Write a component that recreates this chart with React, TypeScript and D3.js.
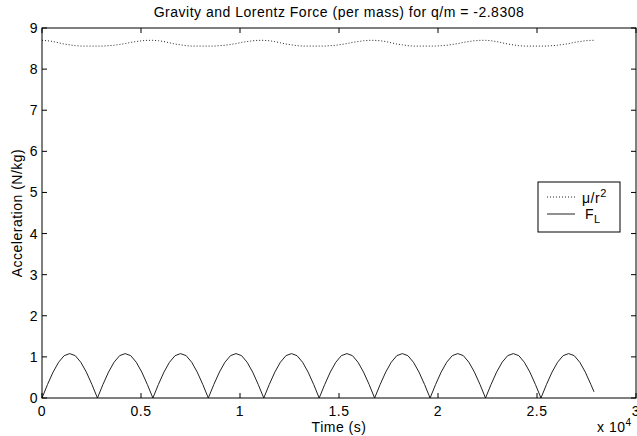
import React from "react";
import * as d3 from "d3";

const TITLE = "Gravity and Lorentz Force (per mass) for q/m = -2.8308";
const X_TICKS = [0, 5000, 10000, 15000, 20000, 25000, 30000];
const X_TICK_LABELS = ["0", "0.5", "1", "1.5", "2", "2.5", "3"];
const Y_TICKS = [0, 1, 2, 3, 4, 5, 6, 7, 8, 9];

// sample times (s): every 280 s, plus the final sample
const T_STEP = 280;
const T_FINAL = 27880;

// Lorentz force per mass, F_L (N/kg)
const FL = [
  0, 0.33, 0.63, 0.87, 1.03, 1.08, 1.03, 0.87, 0.63, 0.33,
  0, 0.33, 0.63, 0.87, 1.03, 1.08, 1.03, 0.87, 0.63, 0.33,
  0, 0.33, 0.63, 0.87, 1.03, 1.08, 1.03, 0.87, 0.63, 0.33,
  0, 0.33, 0.63, 0.87, 1.03, 1.08, 1.03, 0.87, 0.63, 0.33,
  0, 0.33, 0.63, 0.87, 1.03, 1.08, 1.03, 0.87, 0.63, 0.33,
  0, 0.33, 0.63, 0.87, 1.03, 1.08, 1.03, 0.87, 0.63, 0.33,
  0, 0.33, 0.63, 0.87, 1.03, 1.08, 1.03, 0.87, 0.63, 0.33,
  0, 0.33, 0.63, 0.87, 1.03, 1.08, 1.03, 0.87, 0.63, 0.33,
  0, 0.33, 0.63, 0.87, 1.03, 1.08, 1.03, 0.87, 0.63, 0.33,
  0, 0.33, 0.63, 0.87, 1.03, 1.08, 1.03, 0.87, 0.63, 0.33,
  0.15,
];

// Gravity per mass, mu/r^2 (N/kg)
const GRAV = [
  8.70, 8.69, 8.67, 8.64, 8.61, 8.59, 8.57, 8.56, 8.56, 8.56,
  8.56, 8.56, 8.57, 8.58, 8.60, 8.62, 8.65, 8.67, 8.69, 8.70,
  8.70, 8.69, 8.67, 8.64, 8.61, 8.59, 8.57, 8.56, 8.56, 8.56,
  8.56, 8.56, 8.57, 8.58, 8.60, 8.62, 8.65, 8.67, 8.69, 8.70,
  8.70, 8.69, 8.67, 8.64, 8.61, 8.59, 8.57, 8.56, 8.56, 8.56,
  8.56, 8.56, 8.57, 8.58, 8.60, 8.62, 8.65, 8.67, 8.69, 8.70,
  8.70, 8.69, 8.67, 8.64, 8.61, 8.59, 8.57, 8.56, 8.56, 8.56,
  8.56, 8.56, 8.57, 8.58, 8.60, 8.62, 8.65, 8.67, 8.69, 8.70,
  8.70, 8.69, 8.67, 8.64, 8.61, 8.59, 8.57, 8.56, 8.56, 8.56,
  8.56, 8.56, 8.57, 8.58, 8.60, 8.62, 8.65, 8.67, 8.69, 8.70,
  8.70,
];

const W = 637;
const H = 436;
const M = { left: 42, right: 1, top: 28, bottom: 38 };
const FONT = "'Liberation Sans', Arial, Helvetica, sans-serif";
const FS = 14;
const LS = 0.5;

export default function App() {
  const times = FL.map((_, i) => (i < FL.length - 1 ? i * T_STEP : T_FINAL));
  const x = d3.scaleLinear().domain([0, 30000]).range([M.left, W - M.right]);
  const y = d3.scaleLinear().domain([0, 9]).range([H - M.bottom, M.top]);
  const line = d3
    .line<number>()
    .x((_, i) => x(times[i]))
    .y((d) => y(d));

  const x0 = x(0), x1 = x(30000), y0 = y(0), y1 = y(9);
  const tl = 5;
  const col = "#222";

  return (
    <svg
      width={W}
      height={H}
      style={{ position: "absolute", left: 0, top: 0, background: "#fff" }}
      fontFamily={FONT}
      letterSpacing={LS}
    >
      <rect x={0} y={0} width={W} height={H} fill="#fff" />
      <text x={(x0 + x1) / 2} y={17} textAnchor="middle" fontSize={FS} fill="#000">
        {TITLE}
      </text>
      {/* data */}
      <path d={line(GRAV) || ""} fill="none" stroke={col} strokeWidth={1} strokeDasharray="1,2" />
      <path d={line(FL) || ""} fill="none" stroke={col} strokeWidth={1} />
      {/* box */}
      <rect x={x0} y={y1} width={x1 - x0} height={y0 - y1} fill="none" stroke="#000" strokeWidth={1} />
      {/* x ticks */}
      {X_TICKS.map((t, i) => (
        <g key={"x" + t}>
          <line x1={x(t)} x2={x(t)} y1={y0} y2={y0 - tl} stroke="#000" />
          <line x1={x(t)} x2={x(t)} y1={y1} y2={y1 + tl} stroke="#000" />
          <text x={x(t)} y={y0 + 18} textAnchor="middle" fontSize={FS} fill="#000">
            {X_TICK_LABELS[i]}
          </text>
        </g>
      ))}
      {/* y ticks */}
      {Y_TICKS.map((t) => (
        <g key={"y" + t}>
          <line x1={x0} x2={x0 + tl} y1={y(t)} y2={y(t)} stroke="#000" />
          <line x1={x1} x2={x1 - tl} y1={y(t)} y2={y(t)} stroke="#000" />
          <text x={x0 - 4} y={y(t) + 5} textAnchor="end" fontSize={FS} fill="#000">
            {t}
          </text>
        </g>
      ))}
      <text x={(x0 + x1) / 2} y={432} textAnchor="middle" fontSize={FS} fill="#000">
        Time (s)
      </text>
      <text x={597} y={432} fontSize={FS} fill="#000">
        x 10<tspan dy={-6} fontSize={10}>4</tspan>
      </text>
      <text
        transform={`translate(22,${(y0 + y1) / 2}) rotate(-90)`}
        textAnchor="middle"
        fontSize={FS}
        fill="#000"
      >
        Acceleration (N/kg)
      </text>
      {/* legend */}
      <g>
        <rect x={538} y={182} width={82} height={50} fill="#fff" stroke="#000" strokeWidth={1} />
        <line x1={547} x2={575} y1={197} y2={197} stroke={col} strokeDasharray="1,2" />
        <line x1={547} x2={575} y1={214} y2={214} stroke={col} />
        <text x={582} y={203} fontSize={FS} fill="#000">
          μ/r<tspan dy={-6} fontSize={11}>2</tspan>
        </text>
        <text x={585} y={219} fontSize={FS} fill="#000">
          F<tspan dy={4} fontSize={11}>L</tspan>
        </text>
      </g>
    </svg>
  );
}
